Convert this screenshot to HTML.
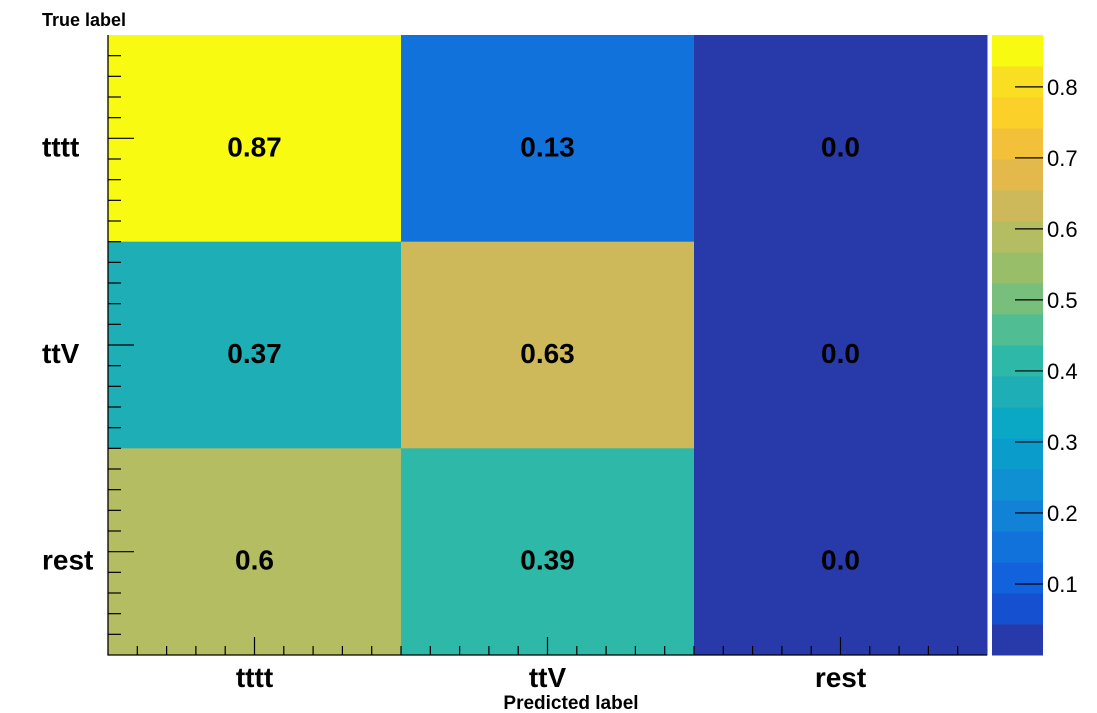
<!DOCTYPE html>
<html><head><meta charset="utf-8"><style>
body{margin:0;background:#fff;}
svg{display:block;font-family:"Liberation Sans",Arial,sans-serif;}
</style></head><body>
<svg id="c" width="1097" height="713"></svg>
<script>
const xCats=["tttt","ttV","rest"];
const yCats=["tttt","ttV","rest"];
const row_tttt=[0.87,0.13,0.0];
const row_ttV=[0.37,0.63,0.0];
const row_rest=[0.6,0.39,0.0];
const labels_tttt=["0.87","0.13","0.0"];
const labels_ttV=["0.37","0.63","0.0"];
const labels_rest=["0.6","0.39","0.0"];
const zTicks=[0.1,0.2,0.3,0.4,0.5,0.6,0.7,0.8];
const zMax=0.873;
const pal=["#283aa9","#1450d0","#1262de","#1272dc","#1182d6","#0e90d2","#0a9ccb","#0aa8c5","#1eaeb5","#2db8a8","#50be92","#78be7c","#98be6a","#b5bd62","#cdb959","#e2b94a","#f3c03a","#fbd028","#fade22","#f8fa12"];
const X0=108,X1=987,Y0=35,Y1=655;
const cw=(X1-X0)/xCats.length, ch=(Y1-Y0)/yCats.length;
const xs=i=>X0+i*cw, ys=j=>Y0+j*ch;
const zy=v=>Y1-(v/zMax)*(Y1-Y0);
function col(v){let b=Math.floor(v/0.866*20);if(b>19)b=19;if(b<0)b=0;return pal[b];}
const svg=document.getElementById('c');const NS="http://www.w3.org/2000/svg";
function mk(t,a,p){const e=document.createElementNS(NS,t);for(const k in a)e.setAttribute(k,a[k]);(p||svg).appendChild(e);return e;}
const rows=[row_tttt,row_ttV,row_rest], labs=[labels_tttt,labels_ttV,labels_rest];
rows.forEach((r,j)=>r.forEach((v,i)=>{
 const c=mk('rect',{x:xs(i),y:ys(j),width:cw+0.5,height:ch+0.5,fill:col(v)});
 
 
 const t=mk('text',{x:xs(i)+cw/2,y:ys(j)+ch/2+18,'text-anchor':'middle','font-size':28,'font-weight':'bold',fill:'#000'});
 t.textContent=labs[j][i];
 
 
}));
mk('path',{d:`M${X0} ${Y0}V${Y1}H${X1}`,stroke:'#000','stroke-width':1.3,fill:'none'});
for(let i=0;i<xCats.length;i++){for(let k=0;k<10;k++){const x=xs(i)+k*cw/10;const L=(k==5)?18:9;if(k==0&&i==0)continue;mk('line',{x1:x,x2:x,y1:Y1,y2:Y1-L,stroke:'#000','stroke-width':1.2});}
 const t=mk('text',{x:xs(i)+cw/2,y:687,'text-anchor':'middle','font-size':28,'font-weight':'bold'});t.textContent=xCats[i];
 
 }
for(let j=0;j<yCats.length;j++){for(let k=0;k<10;k++){const y=ys(j)+k*ch/10;if(k==0&&j==0)continue;const L=(k==5)?26:13;mk('line',{x1:X0,x2:X0+L,y1:y,y2:y,stroke:'#000','stroke-width':1.2});}
 const t=mk('text',{x:42,y:ys(j)+ch/2+18,'font-size':28,'font-weight':'bold'});t.textContent=yCats[j];
 
 }
const BX0=992,BX1=1043;
for(let b=0;b<20;b++){const v0=b*zMax/20,v1=(b+1)*zMax/20;const r=mk('rect',{x:BX0,y:zy(v1),width:BX1-BX0,height:zy(v0)-zy(v1)+0.5,fill:pal[b]});
 
 }
zTicks.forEach(v=>{mk('line',{x1:1015,x2:BX1,y1:zy(v),y2:zy(v),stroke:'#000','stroke-width':1.2});
 const t=mk('text',{x:1047,y:zy(v)+8,'font-size':22});t.textContent=v.toFixed(1);
 
 });
let t=mk('text',{x:42,y:26,'font-size':18,'font-weight':'bold'});t.textContent="True label";


t=mk('text',{x:571,y:709,'text-anchor':'middle','font-size':19,'font-weight':'bold'});t.textContent="Predicted label";


</script>
</body></html>
